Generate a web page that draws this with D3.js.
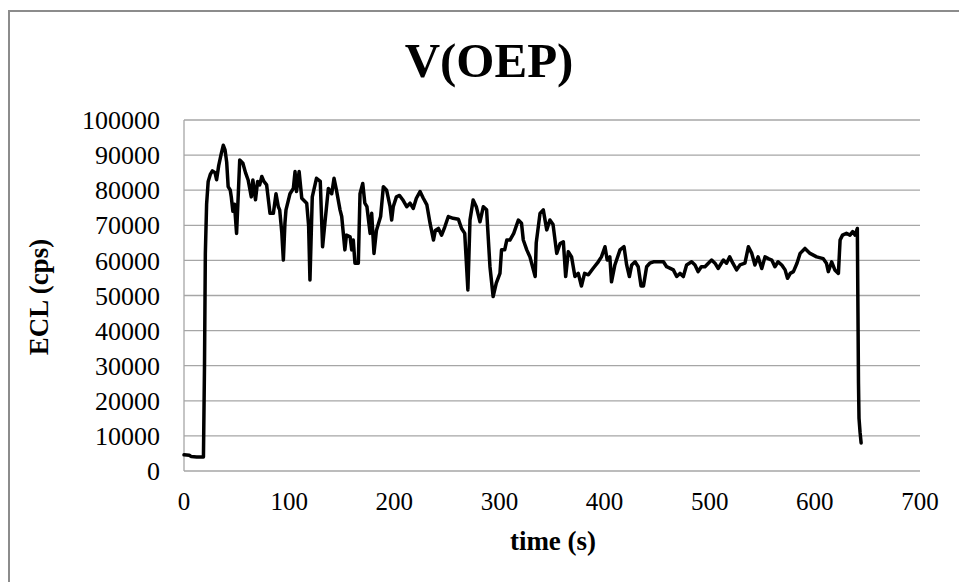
<!DOCTYPE html>
<html>
<head>
<meta charset="utf-8">
<script src="https://cdn.jsdelivr.net/npm/d3@7"></script>
<style>
  html, body { margin: 0; padding: 0; background: #fff; }
  svg { display: block; }
</style>
</head>
<body>
<svg id="chart" width="959" height="582"></svg>
<script>
const chartTitle = "V(OEP)";
const xAxisTitle = "time (s)";
const yAxisTitle = "ECL (cps)";
const xTicks = [0, 100, 200, 300, 400, 500, 600, 700];
const yTicks = [0, 10000, 20000, 30000, 40000, 50000, 60000, 70000, 80000, 90000, 100000];

const times = [
  0, 5, 7, 12, 18.5, 19.5, 20.3, 21.5, 23, 25, 27, 29.5, 31, 33, 35.5, 37.4, 39, 40.6, 42, 44,
  45, 46.5, 48, 50, 51.5, 53, 56, 58.5, 61, 64, 65.5, 68, 70, 72, 74, 76, 78.6, 81.8, 85, 87.5,
  89.7, 91, 93, 94.5, 96, 97, 100.8, 104, 105.6, 107, 109.5, 112, 116.7, 118.5, 119.8, 122, 126, 129.6, 131.8, 134,
  137.3, 140.5, 142.7, 145, 148.4, 150, 153, 154.5, 158, 159.5, 161, 162.6, 165.8, 167.4, 170, 172, 174, 177, 178.5, 180.7,
  183, 187, 189.6, 192.7, 196, 197.5, 199, 202, 205, 208, 211.8, 215, 218, 221, 224.5, 227.6, 231, 234, 237.3, 239,
  242, 245, 248, 251.4, 256, 261, 264, 267, 270, 272, 275, 278, 281.5, 284.7, 287.8, 291, 294, 297, 300.5, 302,
  305, 307, 310, 313.6, 318, 321, 322.7, 326, 329, 334, 335, 338.6, 341.7, 345, 348, 351, 354.5, 357.7, 360.8, 363,
  365.5, 368.6, 371.8, 375, 378, 381, 384.6, 389, 394, 397, 400.4, 402.5, 405, 406.6, 409.8, 414.7, 418.5, 421, 423.6, 425.8,
  429, 432, 434.7, 437, 440, 443, 446.5, 452.7, 456, 459, 462, 465.4, 468.6, 471.7, 474.9, 478, 482.8, 486, 489, 492,
  495.5, 498.7, 501.8, 505, 508, 513, 516, 519, 522, 525.6, 528.8, 533.5, 536.8, 540, 543, 546, 549.5, 552.6, 555.7, 559,
  562, 565, 568.5, 571.7, 574, 576.6, 579.6, 583, 586, 590.6, 595.4, 601.7, 608, 611, 612.8, 616, 619, 622.4, 624, 626.3,
  630, 633.4, 636, 638.2, 640.4, 641, 641.5, 642, 643, 644
];

const ecl = [
  4600, 4500, 4100, 4000, 4000, 30000, 62000, 76000, 82500, 84500, 85500, 85000, 83000, 87000, 90500, 92800, 91500, 88000, 81000, 80000,
  78000, 74000, 76000, 67700, 78000, 88600, 87700, 85000, 82900, 78100, 82900, 77300, 82500, 81500, 83900, 82500, 81500, 73400, 73400, 79000,
  75300, 74400, 68000, 60100, 70600, 74400, 79000, 80500, 85300, 79600, 85300, 77700, 76300, 70000, 54400, 78100, 83400, 82500, 63900, 70600,
  80500, 79000, 83400, 80000, 74400, 72500, 63000, 67200, 66700, 63000, 65800, 59200, 59200, 79000, 81900, 76300, 75300, 67700, 73400, 62000,
  68500, 72500, 81000, 80000, 75300, 71500, 75300, 78100, 78500, 77300, 75300, 76300, 74800, 77700, 79600, 77700, 75800, 70600, 65800, 68500,
  69100, 67200, 69500, 72500, 72000, 71700, 69100, 67700, 51600, 71500, 77200, 75300, 71000, 75300, 74400, 58200, 49700, 53500, 56300, 63000,
  63000, 65800, 65800, 67700, 71500, 70600, 65800, 63000, 61000, 55400, 65000, 73400, 74400, 68700, 71500, 70200, 62000, 64800, 65300, 55400,
  62500, 61000, 55400, 56300, 52700, 56300, 55900, 57700, 59600, 61000, 63900, 60100, 61000, 53900, 58700, 63000, 63900, 58700, 55400, 58700,
  59600, 58200, 52700, 52700, 58200, 59200, 59600, 59600, 59600, 58200, 57800, 57300, 55400, 56300, 55400, 58700, 59600, 58700, 56800, 58200,
  58200, 59200, 60100, 59200, 57700, 60100, 59200, 61000, 59200, 57300, 58700, 59200, 63900, 62000, 58700, 61000, 57700, 61000, 60500, 60100,
  58200, 59600, 58700, 57300, 54900, 56300, 56800, 59200, 62000, 63400, 62000, 61000, 60500, 59200, 56800, 59600, 57300, 56300, 65800, 67200,
  67700, 67200, 68200, 67200, 69100, 45000, 25000, 15000, 11000, 8000
];

const data = times.map((t, i) => ({ t: t, v: ecl[i] }));

const svg = d3.select("#chart");
const serif = "'Liberation Serif', 'Times New Roman', serif";

// outer chart border (extends past the bottom/right of the view)
svg.append("rect")
  .attr("x", 9).attr("y", 11)
  .attr("width", 1000).attr("height", 700)
  .attr("fill", "none")
  .attr("stroke", "#8c8c8c")
  .attr("stroke-width", 2);

const x = d3.scaleLinear().domain([0, 700]).range([184, 920]);
const y = d3.scaleLinear().domain([0, 100000]).range([471, 120]);

// gridlines
svg.append("g")
  .selectAll("line")
  .data(yTicks)
  .join("line")
  .attr("x1", x(0)).attr("x2", x(700))
  .attr("y1", d => y(d)).attr("y2", d => y(d))
  .attr("stroke", "#a6a6a6")
  .attr("stroke-width", 1.3);

// left axis line
svg.append("line")
  .attr("x1", x(0)).attr("x2", x(0))
  .attr("y1", y(0)).attr("y2", y(100000))
  .attr("stroke", "#a6a6a6")
  .attr("stroke-width", 1.3);

// y tick labels
svg.append("g")
  .selectAll("text")
  .data(yTicks)
  .join("text")
  .attr("x", 160)
  .attr("y", d => y(d))
  .attr("dy", "0.35em")
  .attr("text-anchor", "end")
  .attr("font-family", serif)
  .attr("font-size", 26)
  .attr("fill", "#000")
  .text(d => String(d));

// x tick labels
svg.append("g")
  .selectAll("text")
  .data(xTicks)
  .join("text")
  .attr("x", d => x(d))
  .attr("y", 510)
  .attr("text-anchor", "middle")
  .attr("font-family", serif)
  .attr("font-size", 25)
  .attr("fill", "#000")
  .text(d => String(d));

// line
const line = d3.line().x(d => x(d.t)).y(d => y(d.v));
svg.append("path")
  .datum(data)
  .attr("d", line)
  .attr("fill", "none")
  .attr("stroke", "#000")
  .attr("stroke-width", 3.5)
  .attr("stroke-linejoin", "round")
  .attr("stroke-linecap", "round");

// title
svg.append("text")
  .attr("x", 489).attr("y", 77)
  .attr("text-anchor", "middle")
  .attr("font-family", serif)
  .attr("font-weight", "bold")
  .attr("font-size", 49)
  .attr("fill", "#000")
  .text(chartTitle);

// x axis title
svg.append("text")
  .attr("x", 553).attr("y", 550)
  .attr("text-anchor", "middle")
  .attr("font-family", serif)
  .attr("font-weight", "bold")
  .attr("font-size", 27)
  .attr("fill", "#000")
  .text(xAxisTitle);

// y axis title
svg.append("text")
  .attr("transform", "translate(48,297) rotate(-90)")
  .attr("text-anchor", "middle")
  .attr("font-family", serif)
  .attr("font-weight", "bold")
  .attr("font-size", 27)
  .attr("fill", "#000")
  .text(yAxisTitle);
</script>
</body>
</html>
